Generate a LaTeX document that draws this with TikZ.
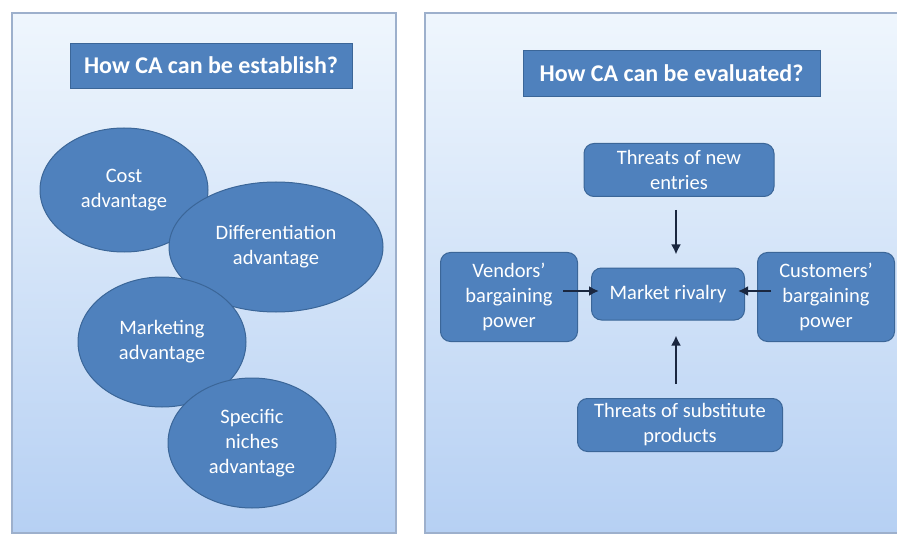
\documentclass[tikz,border=0pt]{standalone}
\usepackage{fontspec}
\setmainfont{Carlito}
\usetikzlibrary{shapes.geometric, arrows.meta}
\definecolor{cablue}{HTML}{4F81BD}
\definecolor{caedge}{HTML}{3B6698}
\definecolor{paneltop}{HTML}{EFF6FD}
\definecolor{panelbot}{HTML}{B6D0F3}
\definecolor{paneledge}{HTML}{9DB0CC}
\definecolor{arrowink}{HTML}{1A2740}

\begin{document}
\begin{tikzpicture}[x=1pt, y=-1pt,
    panel/.style={draw=paneledge, line width=1.5pt, top color=paneltop, bottom color=panelbot},
    heading/.style={rectangle, fill=cablue, draw=caedge, line width=0.8pt, text=white,
        font=\bfseries\fontsize{24}{28}\selectfont, inner sep=0pt},
    oval/.style={ellipse, fill=cablue, draw=caedge, line width=1pt, text=white,
        font=\fontsize{20.5}{25}\selectfont, align=center, inner sep=0pt},
    force/.style={rectangle, rounded corners=10pt, fill=cablue, draw=caedge, line width=1pt,
        text=white, font=\fontsize{20.5}{25}\selectfont, align=center, inner sep=0pt},
    push/.style={-{Latex[length=10pt, width=10pt]}, line width=2pt, draw=arrowink}]
    \useasboundingbox (0,0) rectangle (897,540);
    % left panel
    \path[panel] (12,13) rectangle (396,533);
    \node[heading, minimum width=282pt, minimum height=45pt] (estTitle) at (211,65.5) {How CA can be establish?};
    \node[oval, minimum width=168pt, minimum height=124pt] (cost) at (124,190) {Cost\\advantage};
    \node[oval, minimum width=214pt, minimum height=130pt] (diff) at (276,247) {Differentiation\\advantage};
    \node[oval, minimum width=168pt, minimum height=130pt] (mkt) at (162,342) {Marketing\\advantage};
    \node[oval, minimum width=168pt, minimum height=130pt] (niche) at (252,443) {Specific\\niches\\advantage};
    % right panel
    \path[panel] (425,13) rectangle (910,533);
    \node[heading, minimum width=297pt, minimum height=46pt] (evalTitle) at (671.5,73) {How CA can be evaluated?};
    \node[force, minimum width=190pt, minimum height=53pt] (entries) at (679,170) {Threats of new\\entries};
    \node[force, minimum width=153pt, minimum height=52pt] (rivalry) at (668,294) {Market rivalry};
    \node[force, minimum width=137pt, minimum height=89pt] (vendors) at (509,297) {Vendors'\\bargaining\\power};
    \node[force, minimum width=137pt, minimum height=89pt] (customers) at (826,297) {Customers'\\bargaining\\power};
    \node[force, minimum width=205pt, minimum height=53pt] (substitutes) at (680,425) {Threats of substitute\\products};
    \draw[push, shorten <=13pt, shorten >=13pt] (entries.south -| 676,0) -- (rivalry.north -| 676,0);
    \draw[push, shorten <=14pt, shorten >=15pt] (substitutes.north -| 676,0) -- (rivalry.south -| 676,0);
    \draw[push, shorten <=-15pt, shorten >=-8pt] (vendors.east |- 0,291) -- (rivalry.west |- 0,291);
    \draw[push, shorten <=-14pt, shorten >=-7pt] (customers.west |- 0,291) -- (rivalry.east |- 0,291);
\end{tikzpicture}
\end{document}
